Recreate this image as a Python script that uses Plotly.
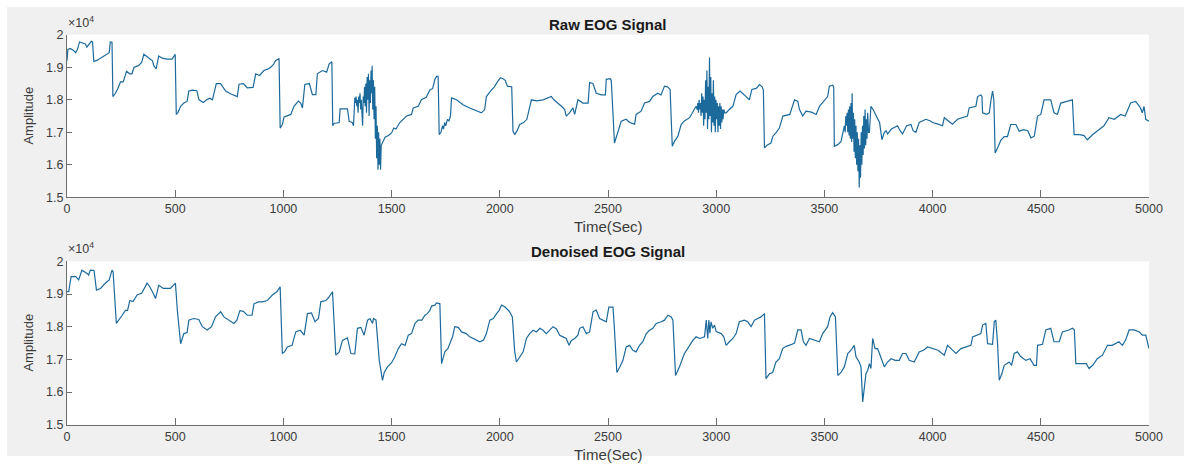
import numpy as np
import plotly.graph_objects as go

W, H = 1184, 464

# ---- Raw EOG signal: time (s) and amplitude (x10^4) ----
raw_t = [
    0, 4, 15, 30, 40, 48, 58, 75, 85, 92, 100, 112, 118, 124, 140, 160, 180, 195, 200, 208,
    212, 224, 235, 247, 260, 268, 275, 290, 300, 310, 330, 345, 355, 375, 395, 401, 412, 424, 440, 460,
    486, 500, 505, 512, 525, 540, 555, 563, 580, 600, 610, 630, 645, 660, 672, 690, 710, 733, 760, 787,
    795, 815, 833, 860, 872, 890, 910, 930, 941, 955, 964, 980, 985, 995, 1003, 1034, 1049, 1069, 1080, 1088,
    1099, 1120, 1134, 1150, 1157, 1180, 1200, 1211, 1224, 1228, 1234, 1258, 1262, 1296, 1304, 1318, 1324, 1330,
    1333, 1336, 1339, 1342, 1345, 1348, 1351, 1354, 1357, 1360, 1363, 1366, 1369, 1372, 1375, 1378, 1381, 1384,
    1387, 1390, 1393, 1396, 1399, 1402, 1405, 1408, 1410, 1413, 1416, 1419, 1422, 1425, 1428, 1431, 1434, 1437,
    1440, 1443, 1446, 1449, 1452, 1458, 1470, 1485, 1500, 1510, 1520, 1538, 1555, 1569, 1592, 1600, 1623, 1638,
    1660, 1677, 1690, 1700, 1708, 1715, 1720, 1728, 1735, 1740, 1745, 1750, 1758, 1765, 1772, 1777, 1800, 1830,
    1861, 1892, 1915, 1930, 1938, 1961, 1975, 1992, 2003, 2015, 2025, 2035, 2055, 2061, 2069, 2080, 2092, 2110,
    2125, 2146, 2170, 2200, 2220, 2238, 2250, 2269, 2285, 2300, 2307, 2322, 2338, 2346, 2361, 2384, 2408, 2415,
    2430, 2446, 2469, 2488, 2492, 2510, 2515, 2530, 2546, 2561, 2584, 2600, 2623, 2630, 2653, 2669, 2692, 2707,
    2730, 2745, 2761, 2775, 2787, 2797, 2807, 2823, 2838, 2853, 2877, 2892, 2907,
    2912, 2915, 2918, 2921, 2924, 2927, 2930, 2933, 2936, 2939, 2942, 2945, 2948, 2951, 2954, 2957, 2960, 2963,
    2966, 2969, 2972, 2975, 2978, 2981, 2984, 2987, 2990, 2993, 2996, 2999, 3002, 3005, 3008, 3011, 3014, 3017,
    3020, 3023, 3026, 3029, 3032, 3035, 3040, 3046, 3060, 3077, 3092, 3110, 3130, 3153, 3165, 3185, 3200, 3212,
    3218, 3223, 3235, 3253, 3262, 3276, 3292, 3308, 3340, 3362, 3377, 3385, 3400, 3415, 3440, 3462, 3477, 3500,
    3515, 3523, 3538, 3543, 3546, 3562, 3577, 3592,
    3596, 3599, 3602, 3605, 3608, 3611, 3614, 3617, 3620, 3623, 3626, 3628, 3631, 3634, 3637, 3640, 3643, 3646,
    3649, 3652, 3655, 3658, 3661, 3664, 3667, 3670, 3673, 3676, 3679, 3682, 3685, 3688, 3691, 3694, 3697, 3700,
    3704, 3708, 3715, 3725, 3735, 3746, 3755, 3766, 3777, 3785, 3792, 3810, 3838, 3850, 3861, 3880, 3900, 3910,
    3923, 3938, 3955, 3969, 3990, 4000, 4025, 4046, 4054, 4075, 4092, 4115, 4140, 4161, 4169, 4190, 4200, 4208,
    4223, 4228, 4231, 4250, 4262, 4270, 4277, 4283, 4289, 4300, 4315, 4331, 4346, 4361, 4385, 4400, 4420, 4440,
    4454, 4470, 4485, 4500, 4515, 4546, 4561, 4577, 4592, 4620, 4646, 4654, 4680, 4700, 4715, 4740, 4760, 4792,
    4815, 4840, 4869, 4890, 4915, 4938, 4950, 4961, 4969, 4977, 4985, 5000,
]
raw_amp = [
    1.920, 1.955, 1.958, 1.952, 1.945, 1.955, 1.978, 1.975, 1.972, 1.962, 1.968, 1.980, 1.978, 1.918, 1.922, 1.930, 1.938, 1.945, 1.978, 1.977,
    1.810, 1.820, 1.835, 1.855, 1.855, 1.870, 1.888, 1.880, 1.880, 1.900, 1.905, 1.915, 1.940, 1.930, 1.920, 1.905, 1.895, 1.935, 1.928, 1.925,
    1.925, 1.940, 1.755, 1.760, 1.780, 1.790, 1.795, 1.827, 1.830, 1.828, 1.800, 1.792, 1.800, 1.805, 1.800, 1.850, 1.850, 1.827, 1.817, 1.810,
    1.848, 1.850, 1.837, 1.838, 1.880, 1.875, 1.890, 1.895, 1.900, 1.910, 1.920, 1.927, 1.713, 1.724, 1.747, 1.755, 1.780, 1.796, 1.790, 1.775,
    1.847, 1.850, 1.816, 1.816, 1.880, 1.890, 1.885, 1.910, 1.917, 1.720, 1.727, 1.730, 1.772, 1.772, 1.734, 1.730, 1.720, 1.806,
    1.790, 1.810, 1.780, 1.800, 1.760, 1.810, 1.790, 1.820, 1.770, 1.800, 1.740, 1.720, 1.810, 1.790, 1.840, 1.780, 1.850, 1.760,
    1.870, 1.800, 1.880, 1.750, 1.860, 1.790, 1.890, 1.820, 1.905, 1.770, 1.860, 1.740, 1.840, 1.680, 1.780, 1.620, 1.720, 1.585,
    1.700, 1.600, 1.680, 1.585, 1.660, 1.670, 1.685, 1.690, 1.698, 1.713, 1.710, 1.730, 1.740, 1.750, 1.755, 1.775, 1.780, 1.800,
    1.808, 1.830, 1.835, 1.863, 1.872, 1.872, 1.693, 1.700, 1.720, 1.710, 1.730, 1.720, 1.740, 1.735, 1.750, 1.806, 1.800, 1.785,
    1.775, 1.765, 1.760, 1.770, 1.810, 1.830, 1.840, 1.858, 1.868, 1.865, 1.860, 1.842, 1.840, 1.703, 1.693, 1.705, 1.724, 1.730,
    1.740, 1.800, 1.797, 1.800, 1.805, 1.810, 1.800, 1.790, 1.780, 1.770, 1.750, 1.760, 1.775, 1.755, 1.800, 1.790, 1.790, 1.853,
    1.850, 1.820, 1.815, 1.815, 1.863, 1.865, 1.860, 1.667, 1.698, 1.734, 1.740, 1.730, 1.725, 1.755, 1.765, 1.790, 1.795, 1.810,
    1.820, 1.815, 1.842, 1.840, 1.832, 1.657, 1.672, 1.688, 1.724, 1.735, 1.745, 1.765, 1.780,
    1.770, 1.790, 1.760, 1.800, 1.770, 1.790, 1.750, 1.820, 1.760, 1.810, 1.720, 1.800, 1.740, 1.860, 1.760, 1.890, 1.710, 1.840,
    1.740, 1.930, 1.750, 1.870, 1.700, 1.820, 1.730, 1.860, 1.720, 1.810, 1.700, 1.800, 1.740, 1.790, 1.700, 1.780, 1.720, 1.790,
    1.710, 1.780, 1.730, 1.770, 1.740, 1.770, 1.760, 1.760, 1.770, 1.780, 1.816, 1.827, 1.815, 1.800, 1.832, 1.835, 1.847, 1.840,
    1.830, 1.652, 1.660, 1.667, 1.688, 1.698, 1.713, 1.750, 1.755, 1.800, 1.795, 1.770, 1.750, 1.765, 1.762, 1.755, 1.780, 1.800,
    1.810, 1.842, 1.845, 1.840, 1.657, 1.662, 1.672, 1.720,
    1.700, 1.750, 1.720, 1.760, 1.700, 1.770, 1.690, 1.780, 1.680, 1.790, 1.670, 1.820, 1.680, 1.760, 1.640, 1.740, 1.620, 1.720,
    1.600, 1.700, 1.580, 1.680, 1.530, 1.660, 1.560, 1.700, 1.600, 1.720, 1.630, 1.750, 1.650, 1.770, 1.660, 1.740, 1.680, 1.760,
    1.700, 1.700, 1.780, 1.770, 1.755, 1.740, 1.730, 1.677, 1.700, 1.705, 1.695, 1.710, 1.720, 1.705, 1.695, 1.720, 1.724, 1.705,
    1.700, 1.730, 1.735, 1.740, 1.735, 1.730, 1.725, 1.720, 1.745, 1.735, 1.725, 1.740, 1.745, 1.750, 1.775, 1.780, 1.780, 1.810,
    1.815, 1.810, 1.760, 1.755, 1.760, 1.800, 1.827, 1.800, 1.636, 1.652, 1.675, 1.687, 1.687, 1.724, 1.724, 1.703, 1.708, 1.705,
    1.683, 1.688, 1.750, 1.755, 1.800, 1.800, 1.760, 1.755, 1.790, 1.795, 1.800, 1.693, 1.693, 1.690, 1.677, 1.693, 1.703, 1.720,
    1.745, 1.740, 1.755, 1.750, 1.790, 1.795, 1.785, 1.775, 1.760, 1.780, 1.740, 1.734,
]

# ---- Denoised EOG signal: time (s) and amplitude (x10^4) ----
den_t = [
    0, 8, 19, 40, 54, 69, 93, 100, 108, 125, 136, 155, 177, 195, 208, 213, 228, 240, 255, 270,
    280, 290, 305, 324, 345, 370, 382, 400, 409, 424, 445, 478, 501, 510, 525, 540, 555, 563, 585, 609,
    625, 648, 668, 686, 710, 725, 750, 771, 785, 799, 815, 833, 855, 864, 885, 903, 925, 949, 970, 985,
    995, 1005, 1018, 1040, 1057, 1078, 1096, 1111, 1130, 1146, 1162, 1173, 1196, 1210, 1227, 1242, 1258, 1273, 1296, 1312,
    1330, 1342, 1358, 1373, 1389, 1400, 1412, 1416, 1428, 1443, 1458, 1466, 1481, 1500, 1515, 1531, 1546, 1562, 1577, 1592,
    1608, 1623, 1640, 1654, 1665, 1677, 1685, 1700, 1708, 1723, 1731, 1746, 1760, 1772, 1782, 1792, 1808, 1823, 1845, 1861,
    1885, 1908, 1925, 1938, 1954, 1970, 1985, 1997, 2008, 2023, 2038, 2045, 2058, 2069, 2077, 2092, 2108, 2123, 2138, 2154,
    2169, 2185, 2200, 2215, 2230, 2246, 2262, 2277, 2292, 2307, 2320, 2331, 2346, 2361, 2369, 2384, 2400, 2415, 2431, 2446,
    2461, 2477, 2492, 2504, 2523, 2530, 2541, 2554, 2569, 2584, 2600, 2615, 2630, 2646, 2661, 2677, 2692, 2707, 2723, 2746,
    2761, 2777, 2792, 2800, 2812, 2830, 2853, 2868, 2892, 2907, 2925, 2946, 2954, 2961, 2966, 2971, 2976, 2984, 2992, 3000,
    3023, 3035, 3046, 3061, 3077, 3092, 3107, 3130, 3146, 3161, 3177, 3192, 3207, 3223, 3230, 3246, 3261, 3276, 3292, 3307,
    3323, 3346, 3362, 3377, 3392, 3403, 3415, 3431, 3454, 3477, 3492, 3515, 3526, 3538, 3551, 3562, 3577, 3592, 3608, 3623,
    3638, 3646, 3661, 3669, 3677, 3685, 3692, 3700, 3708, 3715, 3723, 3734, 3746, 3760, 3777, 3792, 3808, 3827, 3846, 3861,
    3877, 3892, 3915, 3938, 3958, 3977, 4000, 4025, 4054, 4069, 4085, 4108, 4131, 4154, 4177, 4185, 4208, 4223, 4231, 4246,
    4254, 4277, 4285, 4292, 4300, 4308, 4320, 4331, 4354, 4365, 4377, 4392, 4408, 4431, 4450, 4469, 4480, 4485, 4508, 4523,
    4546, 4561, 4585, 4600, 4630, 4646, 4655, 4662, 4690, 4710, 4723, 4740, 4761, 4785, 4808, 4830, 4861, 4877, 4892, 4908,
    4931, 4955, 4969, 4985, 5000,
]
den_amp = [
    1.907, 1.907, 1.953, 1.953, 1.943, 1.973, 1.963, 1.958, 1.973, 1.972, 1.912, 1.917, 1.933, 1.943, 1.973, 1.968, 1.810, 1.820, 1.835, 1.850,
    1.850, 1.880, 1.877, 1.897, 1.902, 1.933, 1.923, 1.900, 1.886, 1.927, 1.917, 1.917, 1.933, 1.850, 1.748, 1.779, 1.782, 1.820, 1.825, 1.822,
    1.800, 1.790, 1.800, 1.830, 1.846, 1.830, 1.820, 1.810, 1.820, 1.849, 1.847, 1.835, 1.835, 1.870, 1.876, 1.876, 1.880, 1.897, 1.907, 1.922,
    1.718, 1.723, 1.738, 1.743, 1.784, 1.789, 1.774, 1.840, 1.842, 1.815, 1.825, 1.876, 1.880, 1.890, 1.907, 1.713, 1.723, 1.758, 1.766, 1.718,
    1.717, 1.795, 1.798, 1.774, 1.820, 1.825, 1.810, 1.825, 1.820, 1.697, 1.636, 1.660, 1.677, 1.690, 1.708, 1.733, 1.748, 1.743, 1.774, 1.779,
    1.810, 1.820, 1.820, 1.835, 1.840, 1.850, 1.863, 1.866, 1.873, 1.870, 1.687, 1.723, 1.733, 1.753, 1.770, 1.800, 1.798, 1.784, 1.779, 1.769,
    1.761, 1.754, 1.759, 1.779, 1.820, 1.825, 1.840, 1.850, 1.866, 1.861, 1.851, 1.846, 1.830, 1.723, 1.692, 1.708, 1.723, 1.764, 1.779, 1.789,
    1.784, 1.795, 1.789, 1.779, 1.789, 1.800, 1.793, 1.774, 1.769, 1.764, 1.743, 1.758, 1.764, 1.774, 1.795, 1.800, 1.779, 1.784, 1.846, 1.851,
    1.825, 1.820, 1.815, 1.860, 1.860, 1.790, 1.660, 1.676, 1.697, 1.738, 1.743, 1.728, 1.723, 1.743, 1.754, 1.779, 1.789, 1.795, 1.810, 1.815,
    1.820, 1.835, 1.830, 1.820, 1.651, 1.677, 1.718, 1.733, 1.758, 1.769, 1.764, 1.769, 1.820, 1.764, 1.820, 1.780, 1.815, 1.795, 1.805, 1.785,
    1.779, 1.769, 1.743, 1.754, 1.764, 1.779, 1.815, 1.820, 1.815, 1.800, 1.820, 1.825, 1.830, 1.840, 1.641, 1.656, 1.660, 1.692, 1.702, 1.733,
    1.740, 1.745, 1.750, 1.790, 1.790, 1.754, 1.743, 1.764, 1.759, 1.754, 1.779, 1.800, 1.830, 1.843, 1.830, 1.651, 1.660, 1.677, 1.718, 1.728,
    1.743, 1.708, 1.692, 1.677, 1.570, 1.615, 1.656, 1.666, 1.687, 1.672, 1.764, 1.733, 1.733, 1.708, 1.677, 1.692, 1.702, 1.697, 1.697, 1.718,
    1.718, 1.697, 1.692, 1.723, 1.728, 1.738, 1.733, 1.728, 1.713, 1.743, 1.733, 1.718, 1.733, 1.738, 1.743, 1.769, 1.774, 1.779, 1.805, 1.810,
    1.748, 1.746, 1.815, 1.820, 1.750, 1.636, 1.656, 1.682, 1.692, 1.682, 1.718, 1.723, 1.708, 1.697, 1.702, 1.682, 1.682, 1.743, 1.746, 1.790,
    1.795, 1.754, 1.754, 1.784, 1.790, 1.795, 1.790, 1.687, 1.687, 1.687, 1.672, 1.682, 1.702, 1.713, 1.743, 1.743, 1.754, 1.743, 1.759, 1.790,
    1.790, 1.784, 1.774, 1.774, 1.733,
]

x_ticks = [0, 500, 1000, 1500, 2000, 2500, 3000, 3500, 4000, 4500, 5000]
y_ticks = [1.5, 1.6, 1.7, 1.8, 1.9, 2.0]
y_tick_text = ["1.5", "1.6", "1.7", "1.8", "1.9", "2"]
titles = ["Raw EOG Signal", "Denoised EOG Signal"]
x_label = "Time(Sec)"
y_label = "Amplitude"

SCALE = 1e4
LINE_COLOR = "#1c6a9c"
AXIS_COLOR = "#6e6e6e"
TEXT_COLOR = "#3c3c3c"
FONT = "Liberation Sans, Arial, sans-serif"


def px_x(p):
    return p / W


def px_y(p):
    return 1 - p / H


# panel rectangles in pixels: (left, top, right, bottom)
panels = [(67, 34.8, 1149, 197.3), (67, 261.3, 1149, 424.8)]

fig = go.Figure()

series = [(raw_t, raw_amp), (den_t, den_amp)]
for i, (t, a) in enumerate(series):
    ax = "" if i == 0 else str(i + 1)
    fig.add_trace(go.Scatter(
        x=t, y=np.array(a) * SCALE, mode="lines",
        line=dict(color=LINE_COLOR, width=1.2),
        xaxis="x" + ax, yaxis="y" + ax, showlegend=False, hoverinfo="skip",
    ))

layout = dict(
    width=W, height=H,
    margin=dict(l=0, r=0, t=0, b=0, autoexpand=False),
    paper_bgcolor="white",
    plot_bgcolor="rgba(0,0,0,0)",
    font=dict(family=FONT, color=TEXT_COLOR, size=12),
    showlegend=False,
)

shapes = [dict(type="rect", xref="paper", yref="paper",
               x0=px_x(7), x1=1.0, y0=px_y(456), y1=px_y(7),
               fillcolor="#f0f0f0", line=dict(width=0), layer="below")]
annotations = []

for i, (l, t, r, b) in enumerate(panels):
    ax = "" if i == 0 else str(i + 1)
    xd = [px_x(l), px_x(r)]
    yd = [px_y(b), px_y(t)]
    shapes.append(dict(type="rect", xref="paper", yref="paper",
                       x0=xd[0], x1=xd[1], y0=yd[0], y1=yd[1],
                       fillcolor="white", line=dict(width=0), layer="below"))
    layout["xaxis" + ax] = dict(
        domain=xd, range=[0, 5000], anchor="y" + ax, automargin=False,
        tickvals=x_ticks, ticks="inside", ticklen=7, tickcolor=AXIS_COLOR,
        showline=True, linecolor=AXIS_COLOR, linewidth=1, mirror=False,
        showgrid=False, zeroline=False,
        tickfont=dict(family=FONT, size=12.5, color=TEXT_COLOR),
    )
    layout["yaxis" + ax] = dict(
        domain=yd, range=[1.5 * SCALE, 2.0 * SCALE], anchor="x" + ax, automargin=False,
        tickvals=[v * SCALE for v in y_ticks], ticktext=y_tick_text,
        ticks="inside", ticklen=5, tickcolor=AXIS_COLOR,
        showline=True, linecolor=AXIS_COLOR, linewidth=1, mirror=False,
        showgrid=False, zeroline=False,
        tickfont=dict(family=FONT, size=12.5, color=TEXT_COLOR),
    )
    # panel title
    annotations.append(dict(
        text="<b>" + titles[i] + "</b>", xref="paper", yref="paper",
        x=px_x((l + r) / 2), y=px_y(t - 10), xanchor="center", yanchor="middle",
        showarrow=False, font=dict(family=FONT, size=15, color="#1a1a1a"),
    ))
    # x-axis label
    annotations.append(dict(
        text=x_label, xref="paper", yref="paper",
        x=px_x((l + r) / 2), y=px_y(b + 29.5), xanchor="center", yanchor="middle",
        showarrow=False, font=dict(family=FONT, size=15, color=TEXT_COLOR),
    ))
    # y-axis label
    annotations.append(dict(
        text=y_label, xref="paper", yref="paper", textangle=-90,
        x=px_x(28.5), y=px_y((t + b) / 2), xanchor="center", yanchor="middle",
        showarrow=False, font=dict(family=FONT, size=13, color=TEXT_COLOR),
    ))
    # exponent marker
    annotations.append(dict(
        text="×10<sup>4</sup>", xref="paper", yref="paper",
        x=px_x(l - 1), y=px_y(t - 3), xanchor="left", yanchor="bottom",
        showarrow=False, font=dict(family=FONT, size=12.5, color=TEXT_COLOR),
    ))

layout["shapes"] = shapes
layout["annotations"] = annotations
fig.update_layout(**layout)

fig.write_html("out.html")
